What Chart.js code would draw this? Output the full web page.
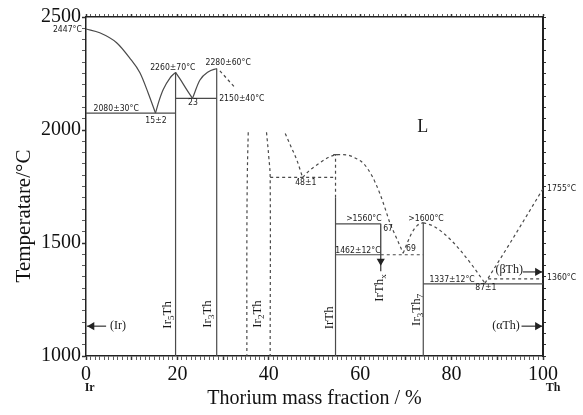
<!DOCTYPE html>
<html><head><meta charset="utf-8">
<script src="https://cdn.jsdelivr.net/npm/chart.js@4.4.0/dist/chart.umd.min.js"></script>
<style>html,body{margin:0;padding:0;background:#fff}</style>
</head><body>
<canvas id="c" width="583" height="415"></canvas>
<script>
// ---------------- data (x: Th mass fraction %, y: temperature °C) ----------------
const xTickLabels = [0, 20, 40, 60, 80, 100];
const yTickLabels = [1000, 1500, 2000, 2500];

const liquidusIr      = [[0,2447],[3,2430],[6.7,2386],[9.5,2320],[11.8,2253],[13.6,2164],[15.2,2075]];
const liquidusIr5ThL  = [[15.2,2075],[16,2130],[16.9,2179],[18.4,2231],[19.6,2255]];
const liquidusIr5ThR  = [[19.6,2255],[20.6,2225],[22,2180],[23.3,2140]];
const liquidusIr3ThL  = [[23.3,2140],[24.9,2220],[26.8,2258],[28.6,2272]];
const liquidusIr3ThR  = [[29.3,2262],[32.7,2185]];
const eutectic2080    = [[0,2075],[19.6,2075]];
const eutectic2150    = [[19.6,2140],[28.6,2140]];
const lineIr5Th       = [[19.6,1000],[19.6,2255]];
const lineIr3Th       = [[28.6,1000],[28.6,2272]];
const ir2ThLeft       = [[35.5,1990],[35.3,1800],[35.2,1500],[35.2,1000]];
const ir2ThRight      = [[39.5,1990],[40.0,1880],[40.3,1790],[40.3,1000]];
const liquidusIr2Th   = [[43.6,1985],[45,1920],[46.1,1869],[47.4,1790]];
const eutectic1800    = [[40.3,1790],[54.6,1790]];
const liquidusIrTh    = [[47.4,1790],[48.7,1817],[51.2,1855],[53,1878],[55,1891],[57,1890],[59,1875],[60.7,1852],[62.5,1800],[64.3,1719],[65.5,1650],[66.5,1589],[68,1520],[69.4,1455]];
const lineIrThDashed  = [[54.6,1700],[54.6,1891]];
const lineIrThCap     = [[54.1,1891],[55.1,1891]];
const lineIrTh        = [[54.6,1000],[54.6,1700]];
const peritectic1560  = [[54.6,1585],[64.5,1585]];
const lineIrThx       = [[64.5,1585],[64.5,1420],[64.5,1375]];
const eutectic1462    = [[54.6,1448],[64.5,1448]];
const eutectic1462D   = [[64.5,1448],[73.8,1448]];
const liquidusIr3Th7L = [[69.4,1455],[70.3,1500],[71.3,1545],[72.5,1578],[73.8,1590]];
const liquidusIr3Th7R = [[73.8,1590],[76,1575],[78.2,1544],[80,1510],[81.8,1470],[84.7,1396],[87.3,1322]];
const liquidusTh      = [[87.3,1322],[92.8,1500],[100,1740]];
const lineIr3Th7      = [[73.8,1000],[73.8,1590]];
const eutectic1337    = [[73.8,1319],[100,1319]];
const transition1360  = [[88,1341],[100,1341]];
const arrowIr         = [[4.4,1132],[1.3,1132],[0.2,1132]];
const arrowAlphaTh    = [[95.3,1132],[98.8,1132],[99.8,1132]];
const arrowBetaTh     = [[95.6,1372],[98.8,1372],[99.8,1372]];

// annotation texts with their anchor in data units
const notes = [
  ['2447°C', -0.9, 2445, 'right'],
  ['2080±30°C', 6.6, 2094, 'center'],
  ['15±2', 15.3, 2041, 'center'],
  ['2260±70°C', 19.0, 2276, 'center'],
  ['23', 23.4, 2121, 'center'],
  ['2280±60°C', 31.1, 2298, 'center'],
  ['2150±40°C', 34.1, 2139, 'center'],
  ['48±1', 48.1, 1767, 'center'],
  ['>1560°C', 60.8, 1607, 'center'],
  ['67', 66.1, 1563, 'center'],
  ['1462±12°C', 59.5, 1466, 'center'],
  ['69', 71.1, 1474, 'center'],
  ['>1600°C', 74.4, 1607, 'center'],
  ['1337±12°C', 80.1, 1337, 'center'],
  ['87±1', 87.5, 1302, 'center'],
  ['1360°C', 100.9, 1346, 'left'],
  ['1755°C', 100.9, 1740, 'left']
];
const phaseNotes = [
  ['L', 73.7, 2010, 18],
  ['(βTh)', 92.6, 1381, 12],
  ['(αTh)', 91.9, 1133, 12],
  ['(Ir)', 7.0, 1133, 12]
];
// compounds: parts [text, isSub]
const compounds = [
  [[['Ir',0],['5',1],['Th',0]], 17.9, 1182],
  [[['Ir',0],['3',1],['Th',0]], 26.7, 1186],
  [[['Ir',0],['2',1],['Th',0]], 37.6, 1186],
  [[['IrTh',0]], 53.4, 1169],
  [[['IrTh',0],['x',1]], 64.3, 1301],
  [[['Ir',0],['3',1],['Th',0],['7',1]], 72.4, 1204]
];

// ---------------- chart ----------------
const LINE = '#4a4a4a';
function ds(pts, dashed, curve, extra) {
  const o = {
    data: pts.map(([x, y]) => ({x, y})),
    showLine: true, borderColor: LINE, borderWidth: 1.2,
    borderDash: dashed ? [3, 3] : [], pointRadius: 0, pointHoverRadius: 0,
    tension: 0, fill: false
  };
  if (curve === 'mono') { o.cubicInterpolationMode = 'monotone'; o.tension = 0.4; }
  else if (curve) { o.tension = 0.4; }
  return Object.assign(o, extra || {});
}
function arrow(pts, rot) {
  return ds(pts, false, false, {
    pointRadius: [0, 3.5, 0], pointStyle: 'triangle', rotation: rot,
    pointBackgroundColor: '#222', pointBorderColor: '#222', borderColor: '#333'
  });
}

const datasets = [
  ds(liquidusIr, false, 'mono'), ds(liquidusIr5ThL, false, 'mono'), ds(liquidusIr5ThR, false, 'mono'),
  ds(liquidusIr3ThL, false, 'mono'), ds(liquidusIr3ThR, true, false),
  ds(eutectic2080, false), ds(eutectic2150, false), ds(lineIr5Th, false), ds(lineIr3Th, false),
  ds(ir2ThLeft, true, true), ds(ir2ThRight, true, true), ds(liquidusIr2Th, true, 'mono'),
  ds(eutectic1800, true), ds(liquidusIrTh, true, 'mono'), ds(lineIrThDashed, true), ds(lineIrThCap, false),
  ds(lineIrTh, false), ds(peritectic1560, false), ds(eutectic1462, false), ds(eutectic1462D, true),
  ds(liquidusIr3Th7L, true, 'mono'), ds(liquidusIr3Th7R, true, 'mono'), ds(liquidusTh, true, 'mono'),
  ds(lineIr3Th7, false), ds(eutectic1337, false), ds(transition1360, true),
  arrow(lineIrThx, 180), arrow(arrowIr, 270), arrow(arrowAlphaTh, 90), arrow(arrowBetaTh, 90)
];

const serif = 'Liberation Serif';
const axisBorder = {color: '#222', width: 1.5};
const tickFont = {family: serif, size: 20};

const textPlugin = {
  id: 'texts',
  afterDraw(chart) {
    const ctx = chart.ctx, sx = chart.scales.x, sy = chart.scales.y;
    const P = (x, y) => [sx.getPixelForValue(x), sy.getPixelForValue(y)];
    ctx.save();
    ctx.fillStyle = '#1a1a1a';
    ctx.textBaseline = 'middle';
    ctx.font = '9px "DejaVu Sans"';
    notes.forEach(([t, x, y, al]) => {
      const [px, py] = P(x, y);
      const w = ctx.measureText(t).width * 0.86;
      let left = al === 'right' ? px - w : al === 'left' ? px : px - w / 2;
      ctx.save(); ctx.translate(left, py); ctx.scale(0.86, 1);
      ctx.textAlign = 'left'; ctx.fillText(t, 0, 0); ctx.restore();
    });
    ctx.textAlign = 'center';
    phaseNotes.forEach(([t, x, y, s]) => {
      const [px, py] = P(x, y);
      ctx.font = s + 'px "' + serif + '"';
      ctx.fillText(t, px, py);
    });
    compounds.forEach(([parts, x, y]) => {
      const [px, py] = P(x, y);
      const big = '13px "' + serif + '"', small = '9px "' + serif + '"';
      let w = 0;
      parts.forEach(([t, sub]) => { ctx.font = sub ? small : big; w += ctx.measureText(t).width; });
      ctx.save(); ctx.translate(px, py); ctx.rotate(-Math.PI / 2);
      let cx = -w / 2;
      ctx.textAlign = 'left';
      parts.forEach(([t, sub]) => {
        ctx.font = sub ? small : big;
        ctx.fillText(t, cx, sub ? 4 : 0);
        cx += ctx.measureText(t).width;
      });
      ctx.restore();
    });
    ctx.font = 'bold 12px "' + serif + '"';
    ctx.textAlign = 'center';
    let [a, b] = P(0.8, 858); ctx.fillText('Ir', a, b);
    [a, b] = P(102.2, 858); ctx.fillText('Th', a, b);
    ctx.fillStyle = '#111';
    ctx.font = '20px "' + serif + '"';
    ctx.fillText('Thorium mass fraction / %', (sx.left + sx.right) / 2, 399);
    ctx.save(); ctx.translate(24, 216); ctx.rotate(-Math.PI / 2);
    ctx.font = '21px "' + serif + '"';
    ctx.fillText('Temperatare/°C', 0, 0); ctx.restore();
    ctx.restore();
  }
};

new Chart(document.getElementById('c'), {
  type: 'scatter',
  data: {datasets},
  options: {
    responsive: false, devicePixelRatio: 1, animation: false,
    layout: {padding: 0},
    plugins: {legend: {display: false}, tooltip: {enabled: false}},
    scales: {
      x: {
        type: 'linear', position: 'bottom', min: 0, max: 100,
        ticks: {stepSize: 1, autoSkip: false, maxRotation: 0, padding: 3, color: '#111', font: tickFont,
          callback: v => xTickLabels.includes(v) ? String(v) : ''},
        grid: {drawOnChartArea: false, tickLength: 4, tickColor: '#333', tickWidth: c => (c.tick && c.tick.value % 10 === 0) ? 1.5 : 0.8},
        border: axisBorder, afterFit: s => { s.height = 59; }
      },
      x2: {
        type: 'linear', axis: 'x', position: 'top', min: 0, max: 100,
        ticks: {display: false, stepSize: 1, autoSkip: false},
        grid: {drawOnChartArea: false, tickLength: 3, tickColor: '#333', tickWidth: c => (c.tick && c.tick.value % 10 === 0) ? 1.5 : 0.8},
        border: axisBorder, afterFit: s => { s.height = 17; }
      },
      y: {
        type: 'linear', position: 'left', min: 1000, max: 2500,
        ticks: {stepSize: 50, autoSkip: false, padding: 1, color: '#111', font: tickFont,
          callback: v => yTickLabels.includes(v) ? String(v) : ''},
        grid: {drawOnChartArea: false, tickLength: 4, tickColor: '#333', tickWidth: c => (c.tick && c.tick.value % 500 === 0) ? 1.5 : 0.8},
        border: axisBorder, afterFit: s => { s.width = 86; }
      },
      y2: {
        type: 'linear', axis: 'y', position: 'right', min: 1000, max: 2500,
        ticks: {display: false, stepSize: 50, autoSkip: false},
        grid: {drawOnChartArea: false, tickLength: 3, tickColor: '#333'},
        border: {color: '#222', width: 2}, afterFit: s => { s.width = 40; }
      }
    }
  },
  plugins: [textPlugin]
});
</script>
</body></html>
